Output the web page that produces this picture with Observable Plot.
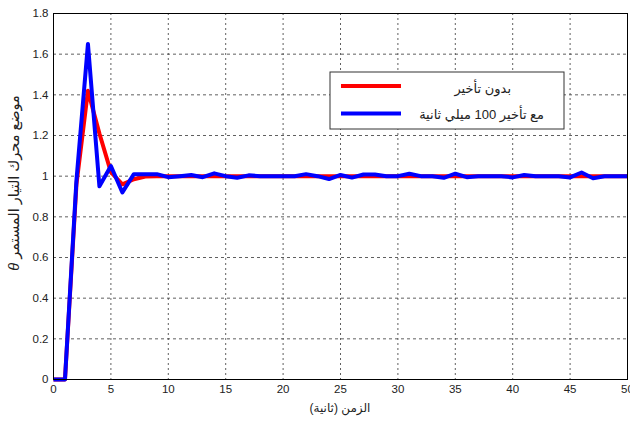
<!DOCTYPE html>
<html><head><meta charset="utf-8">
<script src="https://cdn.jsdelivr.net/npm/d3@7"></script>
<script src="https://cdn.jsdelivr.net/npm/@observablehq/plot@0.6"></script>
<style>body{margin:0;background:#fff} #chart svg{overflow:visible}</style>
</head><body><div id="chart"></div>
<script>
const time = [0,1,2,3,4,5,6,7,8,9,10,11,12,13,14,15,16,17,18,19,20,21,22,23,24,25,26,27,28,29,30,31,32,33,34,35,36,37,38,39,40,41,42,43,44,45,46,47,48,49,50];
const noDelay = [0,0,0.96,1.42,1.21,1.02,0.96,0.985,0.998,1,1,1,1,1,1,1,1,1,1,1,1,1,1,1,1,1,1,1,1,1,1,1,1,1,1,1,1,1,1,1,1,1,1,1,1,1,1,1,1,1,1];
const withDelay = [0,0,0.98,1.65,0.95,1.05,0.92,1.01,1.01,1.01,0.995,1.0,1.006,0.995,1.014,1.0,0.992,1.004,1.0,1.0,1.0,1.0,1.01,1.0,0.986,1.006,0.993,1.008,1.008,1.0,1.0,1.012,1.0,1.0,0.992,1.012,0.995,1.0,1.0,1.0,0.994,1.006,1.0,1.0,1.0,0.994,1.018,0.99,1.0,1.0,1.0];
const xTicks = [0,5,10,15,20,25,30,35,40,45,50];
const yTicks = [0,0.2,0.4,0.6,0.8,1,1.2,1.4,1.6,1.8];
const yTickLabels = ["0","0.2","0.4","0.6","0.8","1","1.2","1.4","1.6","1.8"];
const seriesNames = ["بدون تأخير", "مع تأخير 100 ميلي ثانية"];
const seriesColors = ["#ff0000", "#0000ff"];
const xLabel = "الزمن (ثانية)";
const yLabel = "موضع محرك التيار المستمر";
const yLabelSymbol = "θ";

const rows = [];
time.forEach((t, i) => {
  rows.push({t, v: noDelay[i], s: seriesNames[0]});
});
time.forEach((t, i) => {
  rows.push({t, v: withDelay[i], s: seriesNames[1]});
});

const font = "'Liberation Sans', Arial, 'DejaVu Sans', sans-serif";

const plot = Plot.plot({
  width: 630,
  height: 421,
  marginLeft: 53,
  marginRight: 3,
  marginTop: 13,
  marginBottom: 42,
  style: {fontFamily: font, fontSize: "11.5px", color: "#222", background: "#fff"},
  x: {domain: [0, 50], label: null},
  y: {domain: [0, 1.8], label: null},
  color: {domain: seriesNames, range: seriesColors},
  marks: [
    Plot.gridX(xTicks, {stroke: "#444", strokeOpacity: 0.85, strokeDasharray: "2,3"}),
    Plot.gridY(yTicks, {stroke: "#444", strokeOpacity: 0.85, strokeDasharray: "3,3"}),
    Plot.line(rows, {x: "t", y: "v", stroke: "s", z: "s", strokeWidth: 4, strokeLinejoin: "round", strokeLinecap: "butt"}),
    Plot.axisX(xTicks, {tickSize: 0, tickPadding: 5, tickFormat: d => String(d), fill: "#222"}),
    Plot.axisY(yTicks, {tickSize: 0, tickPadding: 5, tickFormat: (d, i) => yTickLabels[i], fill: "#222"}),
    Plot.frame({stroke: "#000", strokeWidth: 1})
  ]
});

document.getElementById("chart").appendChild(plot);

const svg = d3.select(plot);
const xs = plot.scale("x"), ys = plot.scale("y");
const pLeft = xs.range[0], pRight = xs.range[1];
const pTop = ys.range[1], pBottom = ys.range[0];

// x label
svg.append("text")
  .attr("x", (pLeft + pRight) / 2)
  .attr("y", 412)
  .attr("text-anchor", "middle")
  .attr("font-family", font)
  .attr("font-size", 12)
  .attr("fill", "#222")
  .text(xLabel);

// y label (rotated)
const yl = svg.append("text")
  .attr("transform", `translate(19,${(pTop + pBottom) / 2 - 13}) rotate(-90)`)
  .attr("text-anchor", "middle")
  .attr("font-family", font)
  .attr("font-size", 14.5)
  .attr("fill", "#222");
yl.append("tspan").attr("font-style", "italic").text(yLabelSymbol + " ");
yl.append("tspan").text(yLabel);

// legend
const lg = svg.append("g");
lg.append("rect").attr("x", 330).attr("y", 72).attr("width", 234).attr("height", 57)
  .attr("fill", "#fff").attr("stroke", "#333").attr("stroke-width", 1);
const textRight = [511, 544];
seriesNames.forEach((name, i) => {
  const yy = 86 + i * 27.5;
  lg.append("line").attr("x1", 341).attr("x2", 401).attr("y1", yy).attr("y2", yy)
    .attr("stroke", seriesColors[i]).attr("stroke-width", 4);
  lg.append("text").attr("x", textRight[i]).attr("y", yy + 5 + (i === 0 ? 2 : 0))
    .attr("text-anchor", "end").attr("font-family", font).attr("font-size", 13)
    .attr("fill", "#222").text(name);
});
</script>
</body></html>
